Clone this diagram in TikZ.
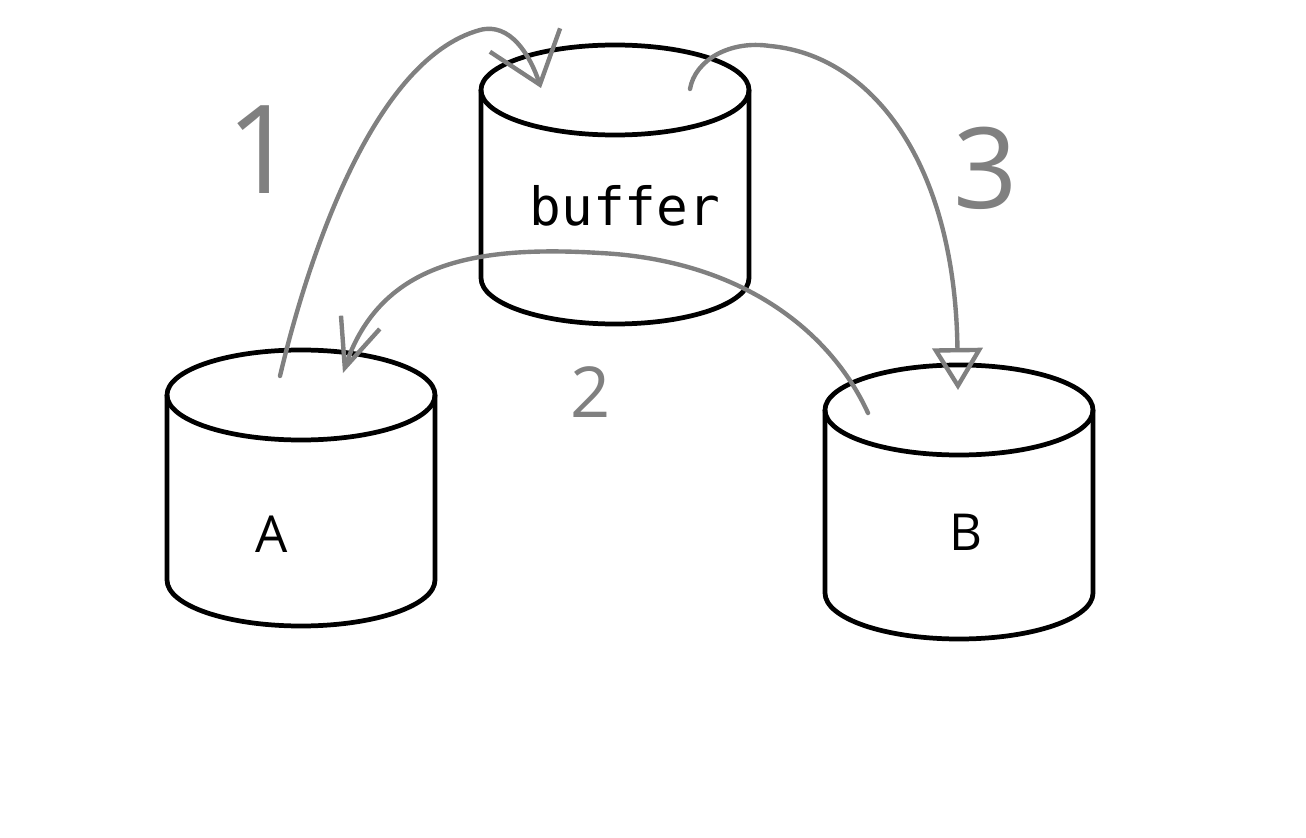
\documentclass[tikz,border=0pt]{standalone}
\usepackage{fontspec}
\usepackage{xcolor}
\usepackage{tikz}
\usetikzlibrary{arrows.meta,calc}
\newfontfamily\monofont{DejaVu Sans Mono}
\newfontfamily\handfont{Open Sans}

\begin{document}
\begin{tikzpicture}[x=0.02cm, y=-0.02cm, line width=2.7pt,
    tag/.style={anchor=base, inner sep=0pt},
    move/.style={draw=gray, line width=2.5pt, line cap=round},
    num/.style={text=gray, font=\handfont}]
\useasboundingbox (0,0) rectangle (1306,838);

    % the three stores: top ellipse, sides and lower rim
    \foreach \cx/\ty/\by in {615/90/278, 301/395/580, 959/410/593} {
        \draw (\cx,\ty) ellipse [x radius=134, y radius=45];
        \draw ({\cx-134},\ty) -- ({\cx-134},\by)
            arc [start angle=180, end angle=0, x radius=134, y radius=46]
            -- ({\cx+134},\ty);
    }

    \node [tag, font=\monofont\fontsize{30}{30}\selectfont] (buf) at (625,225) {buffer};
    \node [tag, font=\handfont\fontsize{29}{29}\selectfont] (A) at (272,552) {A};
    \node [tag, font=\handfont\fontsize{29}{29}\selectfont] (B) at (966,550) {B};

    % ends of the hand drawn arrows
    \coordinate (A out) at (280,376);
    \coordinate (A in) at (343,373);
    \coordinate (buf in) at (541,88);
    \coordinate (buf out) at (690,89);
    \coordinate (B out) at (868,413);
    \coordinate (B in) at (958,390);

    \draw [move, -{Straight Barb[length=0.94cm, width=1.48cm]}]
        (A out) .. controls (305,270) and (370,60) .. (480,30)
                .. controls (510,22) and (530,55) .. (buf in);
    \draw [move, -{Straight Barb[length=0.96cm, width=0.82cm]}]
        (B out) .. controls (830,330) and (740,260) .. (600,253)
                .. controls (470,245) and (380,265) .. (A in);
    \draw [move, -{Triangle[open, length=0.84cm, width=1cm]}]
        (buf out) .. controls (695,60) and (730,40) .. (770,46)
                  .. controls (870,55) and (955,160) .. (B in);

    \node [num, font=\handfont\fontsize{70}{70}\selectfont] (n1) at (262,150) {1};
    \node [num, font=\handfont\fontsize{40}{40}\selectfont] (n2) at (591,392) {2};
    \node [num, font=\handfont\fontsize{64}{64}\selectfont] (n3) at (986,168) {3};
\end{tikzpicture}
\end{document}
